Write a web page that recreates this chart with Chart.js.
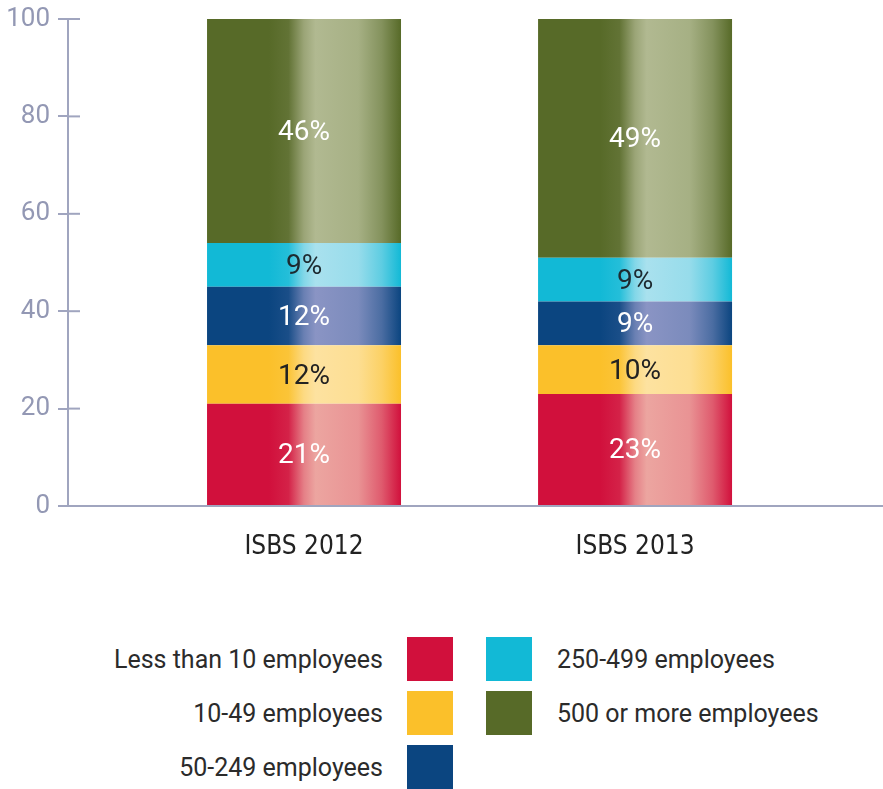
<!DOCTYPE html>
<html>
<head>
<meta charset="utf-8">
<script src="https://cdn.jsdelivr.net/npm/chart.js@4.4.1/dist/chart.umd.min.js"></script>
<style>
  html, body { margin: 0; padding: 0; background: #fff; }
  #wrap { position: relative; width: 883px; height: 789px; overflow: hidden; }
  #box { position: absolute; left: 0; top: 0; width: 883px; height: 600px; }
  .legend-col { position: absolute; top: 637px; font: 25px Roboto, sans-serif; color: #2b2b2b; }
  .legend-col.left { right: 430px; }
  .legend-col.right { left: 486px; }
  .legend-row { display: flex; align-items: center; height: 44px; margin-bottom: 10px; white-space: nowrap; }
  .left .legend-row { justify-content: flex-end; }
  .swatch { width: 46px; height: 44px; flex: none; }
  .left .swatch { margin-left: 24px; }
  .right .swatch { margin-right: 25px; }
</style>
</head>
<body>
<div id="wrap">
  <div id="box"><canvas id="chartPorte"></canvas></div>
  <div class="legend-col left" id="legendLeft"></div>
  <div class="legend-col right" id="legendRight"></div>
</div>
<script>
// Empresas por porte (% de respondentes) em cada edição
const editions = ['ISBS 2012', 'ISBS 2013'];
const sizeClasses = ['Less than 10 employees', '10-49 employees', '50-249 employees', '250-499 employees', '500 or more employees'];
const under10 = [21, 23];
const from10to49 = [12, 10];
const from50to249 = [12, 9];
const from250to499 = [9, 9];
const over500 = [46, 49];
const yTicks = [0, 20, 40, 60, 80, 100];

const seriesValues = [under10, from10to49, from50to249, from250to499, over500];
const baseColors = ['#d1103c', '#fbc02a', '#0b4580', '#12b9d6', '#576a28'];
const lightColors = ['#eca5a0', '#fde2a0', '#8a94c4', '#a9e1ee', '#b1b991'];
const labelColors = ['#ffffff', '#222222', '#ffffff', '#1d2a30', '#ffffff'];
const AXIS = '#a0a5bf';
const TICK = '#9398b4';
const CONDENSED = "'DejaVu Sans Condensed', 'Liberation Sans Narrow', 'Roboto Condensed', Roboto, sans-serif";

const BAR_PCT = 0.586;
const X_MIN = -0.713, X_MAX = 1.749;

// interpola duas cores hex
function lerp(a, b, t) {
    const p = parseInt(a.slice(1), 16), q = parseInt(b.slice(1), 16);
    const ch = (n, s) => (n >> s) & 255;
    const f = s => Math.round(ch(p, s) + (ch(q, s) - ch(p, s)) * t);
    return `rgb(${f(16)},${f(8)},${f(0)})`;
}

// degradê horizontal com brilho, por barra
function shine(k) {
    const base = baseColors[k], hl = lightColors[k];
    return (ctx) => {
        const chart = ctx.chart;
        const x = chart.scales.x;
        if (!chart.chartArea || ctx.type !== 'data' || !x) return base;
        const center = x.getPixelForValue(ctx.dataIndex);
        const half = (x.getPixelForValue(1) - x.getPixelForValue(0)) * BAR_PCT / 2;
        const g = chart.ctx.createLinearGradient(center - half, 0, center + half, 0);
        g.addColorStop(0, base);
        g.addColorStop(0.32, base);
        g.addColorStop(0.42, lerp(base, hl, 0.12));
        g.addColorStop(0.5, lerp(base, hl, 0.75));
        g.addColorStop(0.56, hl);
        g.addColorStop(0.78, lerp(base, hl, 0.88));
        g.addColorStop(0.9, lerp(base, hl, 0.5));
        g.addColorStop(1, base);
        return g;
    };
}

const segmentLabels = {
    id: 'segmentLabels',
    afterDatasetsDraw(chart) {
        const { ctx } = chart;
        ctx.save();
        ctx.font = '28px Roboto, sans-serif';
        ctx.textAlign = 'center';
        ctx.textBaseline = 'middle';
        chart.data.datasets.forEach((ds, di) => {
            chart.getDatasetMeta(di).data.forEach((bar, i) => {
                ctx.fillStyle = labelColors[di];
                ctx.fillText(ds.data[i].y + '%', bar.x, (bar.y + bar.base) / 2 + 2);
            });
        });
        ctx.restore();
    }
};

// parte interna das marcas do eixo Y
const innerTicks = {
    id: 'innerTicks',
    afterDraw(chart) {
        const y = chart.scales.y, ctx = chart.ctx, left = chart.chartArea.left;
        ctx.save();
        ctx.strokeStyle = AXIS;
        ctx.lineWidth = 2;
        y.ticks.forEach((t, i) => {
            const py = y.getPixelForTick(i);
            ctx.beginPath();
            ctx.moveTo(left, py);
            ctx.lineTo(left + 12, py);
            ctx.stroke();
        });
        ctx.restore();
    }
};

const chartPorte = new Chart(document.getElementById('chartPorte'), {
    type: 'bar',
    data: {
        datasets: sizeClasses.map((label, k) => ({
            label,
            data: seriesValues[k].map((v, i) => ({ x: i, y: v })),
            backgroundColor: shine(k),
            borderWidth: 0,
            barPercentage: BAR_PCT,
            categoryPercentage: 1
        }))
    },
    options: {
        responsive: true,
        maintainAspectRatio: false,
        animation: false,
        layout: { padding: { top: 19, left: 0, right: 0, bottom: 0 } },
        plugins: { legend: { display: false }, tooltip: { enabled: false } },
        scales: {
            x: {
                type: 'linear', stacked: true, offset: false, min: X_MIN, max: X_MAX,
                afterBuildTicks: s => { s.ticks = editions.map((_, i) => ({ value: i })); },
                afterFit: s => { s.height = 94; },
                grid: { display: true, drawOnChartArea: false, drawTicks: false, offset: false },
                border: { color: AXIS, width: 2 },
                ticks: {
                    callback: v => editions[v], color: '#222222', padding: 26,
                    font: { family: CONDENSED, size: 26 },
                    maxRotation: 0, autoSkip: false
                }
            },
            y: {
                stacked: true, min: 0, max: 100,
                afterBuildTicks: s => { s.ticks = yTicks.map(v => ({ value: v })); },
                afterFit: s => { s.width = 68; s.paddingTop = 0; s.paddingBottom = 0; },
                grid: { drawOnChartArea: false, drawTicks: true, tickLength: 10, tickColor: AXIS, tickWidth: 2, lineWidth: 2, color: AXIS },
                border: { color: AXIS, width: 2 },
                ticks: { color: TICK, padding: 8, font: { family: 'Roboto', size: 26 } }
            }
        }
    },
    plugins: [segmentLabels, innerTicks]
});

// legenda em duas colunas
function montarLegenda() {
    const cols = [document.getElementById('legendLeft'), document.getElementById('legendRight')];
    chartPorte.data.datasets.forEach((ds, k) => {
        const row = document.createElement('div');
        row.className = 'legend-row';
        const sw = document.createElement('span');
        sw.className = 'swatch';
        sw.style.background = baseColors[k];
        const txt = document.createElement('span');
        txt.textContent = ds.label;
        if (k < 3) { row.append(txt, sw); cols[0].append(row); }
        else { row.append(sw, txt); cols[1].append(row); }
    });
}
montarLegenda();
</script>
</body>
</html>
